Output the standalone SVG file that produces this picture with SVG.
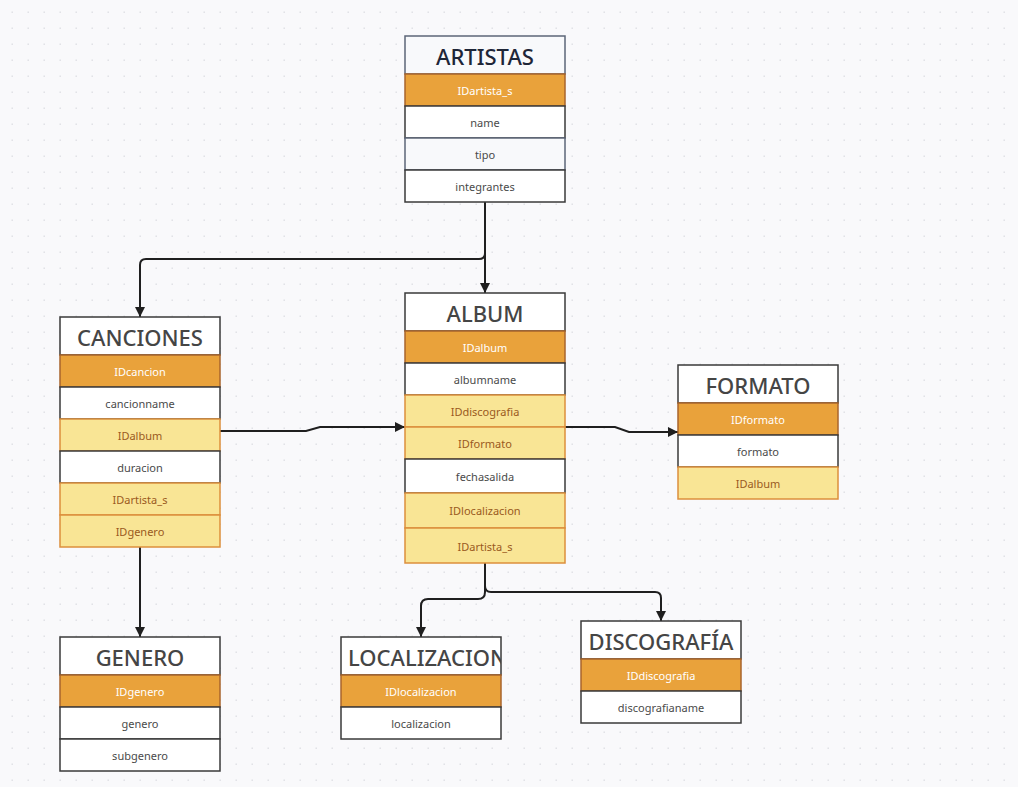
<svg xmlns="http://www.w3.org/2000/svg" width="1018" height="787" viewBox="0 0 1018 787">
<defs>
<pattern id="grid" x="0" y="0" width="16" height="16" patternUnits="userSpaceOnUse">
<rect x="11.5" y="11.5" width="1.4" height="1.4" fill="#dcdde3"/>
</pattern>
<marker id="arr" viewBox="0 0 10 10" refX="10" refY="5" markerWidth="10" markerHeight="10" markerUnits="userSpaceOnUse" orient="auto">
<path d="M0,0 L10,5 L0,10 Z" fill="#1f1f1f"/>
</marker>
<clipPath id="clipLoc"><rect x="341" y="637" width="160" height="38"/></clipPath>
</defs>
<style>
.hdr{fill:#ffffff;stroke:#3a3a3a;stroke-width:1.5}
.title{font-family:"Noto Sans","Open Sans",sans-serif;font-size:22px;font-weight:500;fill:#454545;text-anchor:middle;dominant-baseline:central}
.pk{fill:#e9a23b;stroke:#a8642c;stroke-width:1.5}
.fk{fill:#f9e595;stroke:#dc8f3c;stroke-width:1.5}
.at{fill:#ffffff;stroke:#3a3a3a;stroke-width:1.5}
.t{font-family:"Noto Sans","Open Sans",sans-serif;font-size:11px;text-anchor:middle;dominant-baseline:central}
.tpk{fill:#ffffff}
.tfk{fill:#9a5a1e}
.tat{fill:#4a4a4a}
.con{fill:none;stroke:#1f1f1f;stroke-width:2;marker-end:url(#arr)}
</style>
<rect width="1018" height="787" fill="#f9f9fb"/>
<rect width="1018" height="787" fill="url(#grid)"/>

<g id="connectors">
<path class="con" d="M485,202 V293"/>
<path class="con" d="M485,202 V253 Q485,259 479,259 H146 Q140,259 140,265 V317"/>
<path class="con" d="M220,431 H306 L320,427 H405"/>
<path class="con" d="M565,427 H615 L629,432 H678"/>
<path class="con" d="M140,547 V637"/>
<path class="con" d="M485,563 V592 Q485,599 478,599 H428 Q421,599 421,606 V637"/>
<path class="con" d="M485,563 V586 Q485,592 491,592 H655 Q661,592 661,598 V621"/>
</g>

<g id="artistas">
<rect x="405" y="36" width="160" height="38" fill="#f8f9fb" stroke="#5c6678" stroke-width="1.5"/>
<text class="title" x="485" y="56" style="fill:#1e2638">ARTISTAS</text>
<rect class="pk" x="405" y="74" width="160" height="32"/>
<text class="t tpk" x="485" y="90">IDartista_s</text>
<rect class="at" x="405" y="106" width="160" height="32"/>
<text class="t tat" x="485" y="122">name</text>
<rect x="405" y="138" width="160" height="32" fill="#f8f9fb" stroke="#5c6678" stroke-width="1.5"/>
<text class="t tat" x="485" y="154">tipo</text>
<rect class="at" x="405" y="170" width="160" height="32"/>
<text class="t tat" x="485" y="186">integrantes</text>
</g>

<g id="canciones">
<rect class="hdr" x="60" y="317" width="160" height="38"/>
<text class="title" x="140" y="337">CANCIONES</text>
<rect class="pk" x="60" y="355" width="160" height="32"/>
<text class="t tpk" x="140" y="371">IDcancion</text>
<rect class="at" x="60" y="387" width="160" height="32"/>
<text class="t tat" x="140" y="403">cancionname</text>
<rect class="fk" x="60" y="419" width="160" height="32"/>
<text class="t tfk" x="140" y="435">IDalbum</text>
<rect class="at" x="60" y="451" width="160" height="32"/>
<text class="t tat" x="140" y="467">duracion</text>
<rect class="fk" x="60" y="483" width="160" height="32"/>
<text class="t tfk" x="140" y="499">IDartista_s</text>
<rect class="fk" x="60" y="515" width="160" height="32"/>
<text class="t tfk" x="140" y="531">IDgenero</text>
</g>

<g id="album">
<rect class="hdr" x="405" y="293" width="160" height="38"/>
<text class="title" x="485" y="313">ALBUM</text>
<rect class="pk" x="405" y="331" width="160" height="32"/>
<text class="t tpk" x="485" y="347">IDalbum</text>
<rect class="at" x="405" y="363" width="160" height="32"/>
<text class="t tat" x="485" y="379">albumname</text>
<rect class="fk" x="405" y="395" width="160" height="32"/>
<text class="t tfk" x="485" y="411">IDdiscografia</text>
<rect class="fk" x="405" y="427" width="160" height="32"/>
<text class="t tfk" x="485" y="443">IDformato</text>
<rect class="at" x="405" y="459" width="160" height="34"/>
<text class="t tat" x="485" y="476">fechasalida</text>
<rect class="fk" x="405" y="493" width="160" height="35"/>
<text class="t tfk" x="485" y="510">IDlocalizacion</text>
<rect class="fk" x="405" y="528" width="160" height="35"/>
<text class="t tfk" x="485" y="546">IDartista_s</text>
</g>

<g id="formato">
<rect class="hdr" x="678" y="365" width="160" height="38"/>
<text class="title" x="758" y="385">FORMATO</text>
<rect class="pk" x="678" y="403" width="160" height="32"/>
<text class="t tpk" x="758" y="419">IDformato</text>
<rect class="at" x="678" y="435" width="160" height="32"/>
<text class="t tat" x="758" y="451">formato</text>
<rect class="fk" x="678" y="467" width="160" height="32"/>
<text class="t tfk" x="758" y="483">IDalbum</text>
</g>

<g id="genero">
<rect class="hdr" x="60" y="637" width="160" height="38"/>
<text class="title" x="140" y="657">GENERO</text>
<rect class="pk" x="60" y="675" width="160" height="32"/>
<text class="t tpk" x="140" y="691">IDgenero</text>
<rect class="at" x="60" y="707" width="160" height="32"/>
<text class="t tat" x="140" y="723">genero</text>
<rect class="at" x="60" y="739" width="160" height="32"/>
<text class="t tat" x="140" y="755">subgenero</text>
</g>

<g id="localizacion">
<rect class="hdr" x="341" y="637" width="160" height="38"/>
<text class="title" x="348" y="657" clip-path="url(#clipLoc)" style="text-anchor:start">LOCALIZACION</text>
<rect class="pk" x="341" y="675" width="160" height="32"/>
<text class="t tpk" x="421" y="691">IDlocalizacion</text>
<rect class="at" x="341" y="707" width="160" height="32"/>
<text class="t tat" x="421" y="723">localizacion</text>
</g>

<g id="discografia">
<rect class="hdr" x="581" y="621" width="160" height="38"/>
<text class="title" x="661" y="641">DISCOGRAFÍA</text>
<rect class="pk" x="581" y="659" width="160" height="32"/>
<text class="t tpk" x="661" y="675">IDdiscografia</text>
<rect class="at" x="581" y="691" width="160" height="32"/>
<text class="t tat" x="661" y="707">discografianame</text>
</g>
</svg>
